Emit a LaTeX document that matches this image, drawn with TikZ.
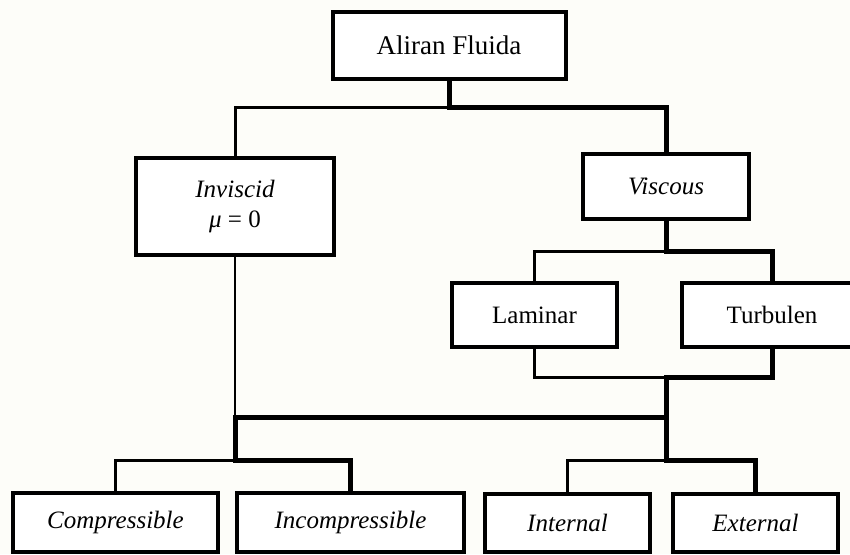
\documentclass[tikz,border=0pt]{standalone}
\usepackage{fontspec}
\setmainfont{Liberation Serif}
\usepackage{tikz}
\tikzset{>=latex}
\definecolor{paper}{RGB}{253,253,249}
\tikzset{
  box/.style={draw=black, line width=4pt, fill=white, inner sep=0pt, font=\fontsize{25}{30}\selectfont},
  thinlink/.style={draw=black, line width=3pt, line cap=rect},
  thicklink/.style={draw=black, line width=5pt, line cap=rect},
  hairlink/.style={draw=black, line width=2.2pt, line cap=rect}
}

\begin{document}
\begin{tikzpicture}[x=1pt, y=-1pt]
          \useasboundingbox (0,0) rectangle (850,554);
          \fill[paper] (0,0) rectangle (850,554);
          \clip (0,0) rectangle (850,554);

          \node[box, minimum width=233pt, minimum height=67pt, font=\fontsize{27}{30}\selectfont] (fluida) at (449,45.5) {Aliran Fluida};
          \node[box, minimum width=198pt, minimum height=97pt, align=center] (invisc) at (235,206.5) {\textit{Inviscid}\\\textit{μ} = 0};
          \node[box, minimum width=166pt, minimum height=65pt] (visc) at (666,186.5) {\textit{Viscous}};
          \node[box, minimum width=165pt, minimum height=64pt] (lam) at (534.5,315) {Laminar};
          \node[box, minimum width=180pt, minimum height=64pt] (turb) at (772,315) {Turbulen};
          \node[box, minimum width=205pt, minimum height=59pt] (comp) at (115.5,522.5) {\textit{Compressible}};
          \node[box, minimum width=227pt, minimum height=59pt] (incomp) at (350.5,522.5) {\textit{Incompressible}};
          \node[box, minimum width=165pt, minimum height=58pt] (intern) at (567.5,523) {\textit{Internal}};
          \node[box, minimum width=165pt, minimum height=58pt] (extern) at (755.5,523) {\textit{External}};

          \coordinate (jtop) at (449,107);
          \coordinate (jvisc) at (666,251);
          \coordinate (jflow) at (666,377);
          \coordinate (jjoin) at (666,417);
          \coordinate (jmid) at (235,417);
          \coordinate (jleft) at (235,460);
          \coordinate (jright) at (666,460);

          \path[thicklink] (fluida) -- (jtop) -| (visc);
          \path[thinlink] (jtop) -| (invisc);
          \path[thicklink] (visc) -- (jvisc) -| (turb);
          \path[thinlink] (jvisc) -| (lam);
          \path[thinlink] (lam) |- (jflow);
          \path[thicklink] (turb) |- (jflow) -- (jright);
          \path[hairlink] (invisc) -- (jmid);
          \path[thicklink] (jjoin) -- (jmid) -- (jleft) -| (incomp);
          \path[thinlink] (jleft) -| (comp);
          \path[thicklink] (jright) -| (extern);
          \path[thinlink] (jright) -| (intern);
        \end{tikzpicture}
\end{document}
